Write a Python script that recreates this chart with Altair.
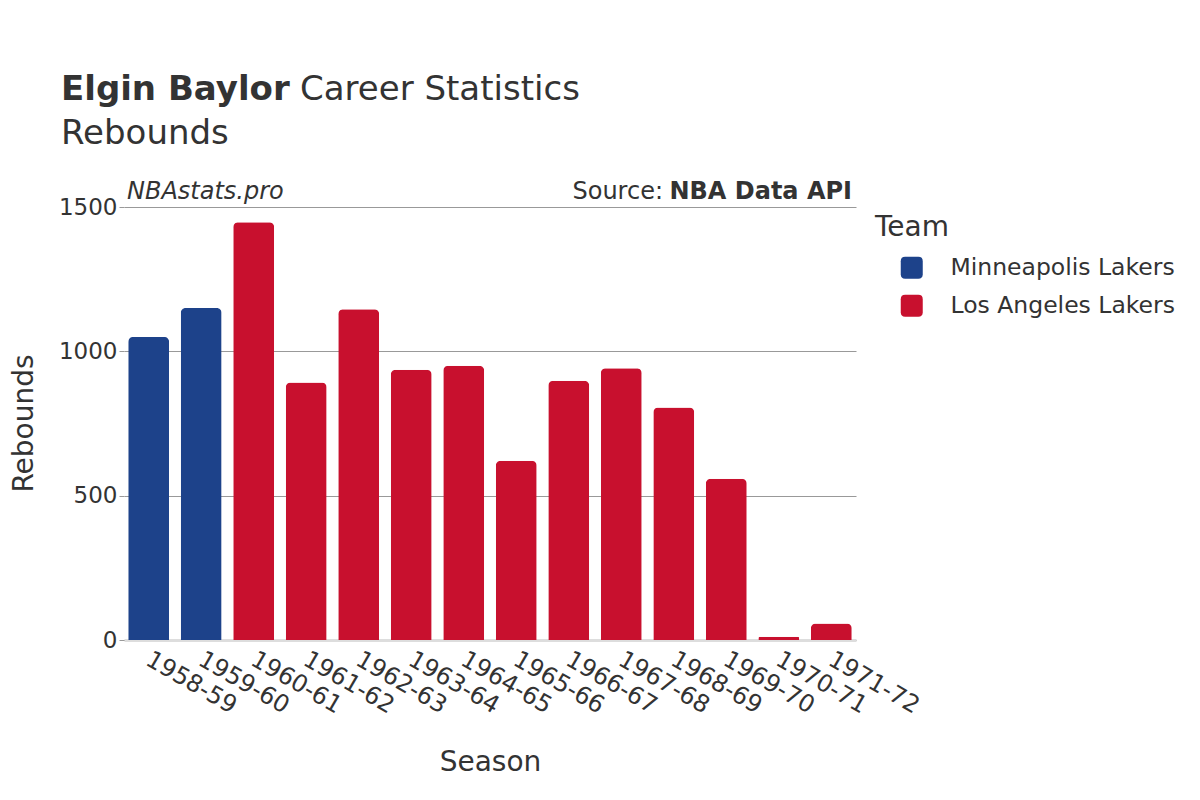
import altair as alt
import pandas as pd

seasons = ["1958-59", "1959-60", "1960-61", "1961-62", "1962-63", "1963-64", "1964-65",
           "1965-66", "1966-67", "1967-68", "1968-69", "1969-70", "1970-71", "1971-72"]
rebounds = [1050, 1150, 1447, 892, 1146, 936, 950, 621, 898, 941, 805, 559, 11, 57]
teams = ["Minneapolis Lakers", "Minneapolis Lakers"] + ["Los Angeles Lakers"] * 12
team_order = ["Minneapolis Lakers", "Los Angeles Lakers"]
team_colors = ["#1D428A", "#C8102E"]

df = pd.DataFrame({"Season": seasons, "Rebounds": rebounds, "Team": teams})
one = pd.DataFrame({"k": [0]})

FONT = "DejaVu Sans"
TXT = "#333333"
rounded = "M -1 -0.6 Q -1 -1 -0.6 -1 L 0.6 -1 Q 1 -1 1 -0.6 L 1 0.6 Q 1 1 0.6 1 L -0.6 1 Q -1 1 -1 0.6 Z"

bars = alt.Chart(df).mark_bar(cornerRadiusTopLeft=5, cornerRadiusTopRight=5).encode(
    x=alt.X("Season:N", sort=seasons,
            scale=alt.Scale(paddingInner=0.22, paddingOuter=0.08),
            axis=alt.Axis(title="Season", labelAngle=30, labelAlign="left", labelBaseline="top",
                          labelFontSize=24, labelColor=TXT, labelFont=FONT, labelPadding=7,
                          labelOffset=5,
                          ticks=False, domainColor="#dddddd", domainWidth=3,
                          titleFontSize=28, titleFont=FONT, titleColor=TXT, titleFontWeight="normal",
                          titleY=130, titleBaseline="alphabetic")),
    y=alt.Y("Rebounds:Q", scale=alt.Scale(domain=[0, 1500]),
            axis=alt.Axis(title="Rebounds", values=[0, 500, 1000, 1500], format="d", domain=False,
                          tickColor="#999999", tickSize=5, gridColor="#999999", gridWidth=1,
                          labelFontSize=23, labelColor=TXT, labelFont=FONT, labelPadding=2,
                          titleFontSize=28, titleFont=FONT, titleColor=TXT, titleFontWeight="normal",
                          titleX=-92, titleY=216, titleBaseline="alphabetic", titleAlign="center")),
    color=alt.Color("Team:N", scale=alt.Scale(domain=team_order, range=team_colors),
                    legend=alt.Legend(title="Team", orient="none", legendX=751, legendY=7,
                                      titleFontSize=28, titleFont=FONT, titleColor=TXT,
                                      titleFontWeight="normal", titlePadding=14,
                                      labelFontSize=23.5, labelFont=FONT, labelColor=TXT,
                                      labelLimit=0,
                                      symbolType=rounded, symbolSize=484, symbolOffset=25,
                                      symbolStrokeWidth=0, symbolOpacity=1,
                                      labelOffset=27, rowPadding=13)),
)

def txt(text, x, y, size, weight="normal", style="normal", align="left"):
    return alt.Chart(one).mark_text(text=text, font=FONT, fontSize=size, fontWeight=weight,
                                    fontStyle=style, color=TXT, align=align,
                                    baseline="alphabetic").encode(x=alt.value(x), y=alt.value(y))

title1 = txt("Elgin Baylor", -63, -107, 34, weight="bold")
title2 = txt("Career Statistics", 176, -107, 34)
subtitle = txt("Rebounds", -63, -63, 34)
site = txt("NBAstats.pro", 3, -8, 24, style="italic")
src_b = txt("NBA Data API", 728, -8, 24, weight="bold", align="right")
src_n = txt("Source:", 539, -8, 24, align="right")

chart = alt.layer(bars, title1, title2, subtitle, site, src_b, src_n).properties(
    width=732, height=433,
    autosize=alt.AutoSizeParams(type="none"),
    padding={"left": 116, "top": 199, "right": 330, "bottom": 140},
    background="white",
).configure_view(stroke=None)

chart.save("out.html", embed_options={"renderer": "svg", "actions": False})
